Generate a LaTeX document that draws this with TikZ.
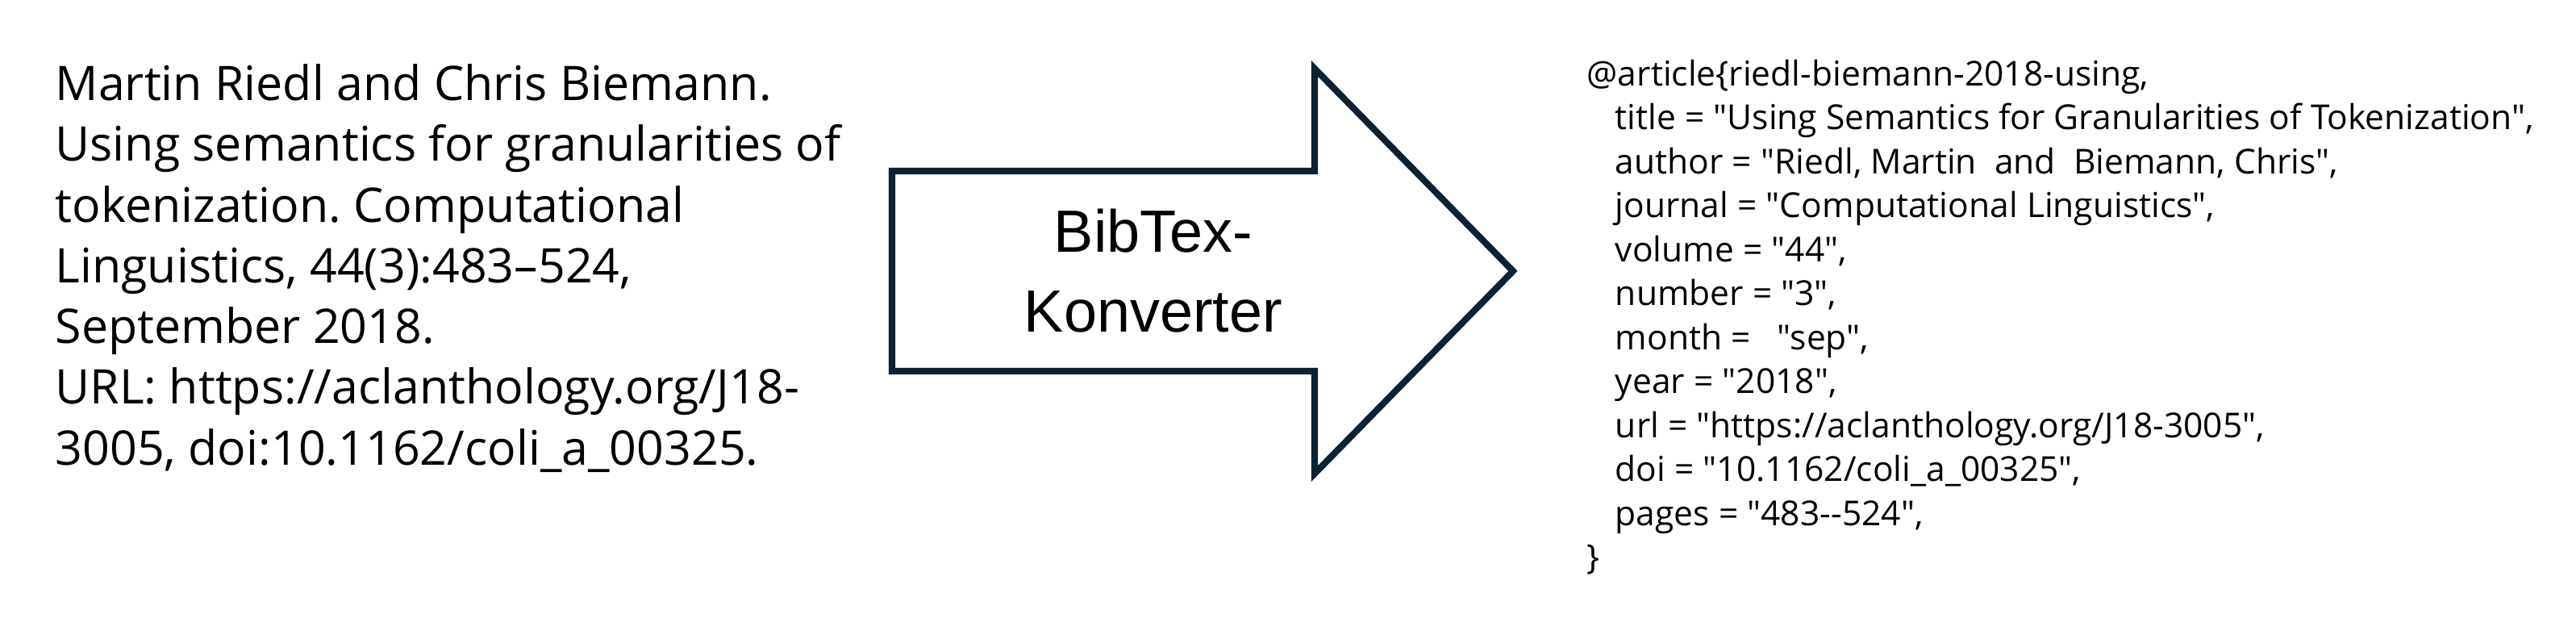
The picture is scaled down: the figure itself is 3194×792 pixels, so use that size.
\documentclass[tikz,border=0pt]{standalone}
\usepackage{fontspec}
\setmainfont{Open Sans}
\newfontfamily\bibfont[Ligatures=TeXOff]{Open Sans}
\newfontfamily\convfont{Liberation Sans}
\definecolor{arrowline}{RGB}{10,35,52}
\newcommand{\bibind}{\hspace*{10pt}}
\frenchspacing

\begin{document}
\begin{tikzpicture}[x=0.01cm, y=-0.01cm,
        refbox/.style={anchor=north west, inner sep=0pt, align=left, font=\fontsize{16.8}{21.4}\selectfont},
        bibbox/.style={anchor=north west, inner sep=0pt, align=left, font=\bibfont\fontsize{12.1}{15.5}\selectfont},
        convarrow/.style={draw=arrowline, line width=2.3pt, fill=white},
        convlabel/.style={align=center, inner sep=0pt, font=\convfont\fontsize{21}{28.2}\selectfont}
    ]
    \useasboundingbox (0,0) rectangle (3194,792);

    % Literaturangabe
    \node[refbox] (citation) at (68,79) {Martin Riedl and Chris Biemann.\\
        Using semantics for granularities of\\
        tokenization. Computational\\
        Linguistics, 44(3):483--524,\\
        September 2018.\\
        URL: https://aclanthology.org/J18-\\
        3005, doi:10.1162/coli\_a\_00325.};

    % Konverter
    \draw[convarrow] (1106,212) -- (1630,212) -- (1630,85) -- (1876,336)
        -- (1630,587) -- (1630,460) -- (1106,460) -- cycle;
    \node[convlabel] (converter) at (1430,336) {BibTex-\\Konverter};

    % BibTeX-Eintrag
    \node[bibbox] (bibentry) at (1967,73) {@article\{riedl-biemann-2018-using,\\
        \bibind title = "Using Semantics for Granularities of Tokenization",\\
        \bibind author = "Riedl, Martin\ \ and\ \ Biemann, Chris",\\
        \bibind journal = "Computational Linguistics",\\
        \bibind volume = "44",\\
        \bibind number = "3",\\
        \bibind month =\ \ \ "sep",\\
        \bibind year = "2018",\\
        \bibind url = "https://aclanthology.org/J18-3005",\\
        \bibind doi = "10.1162/coli\_a\_00325",\\
        \bibind pages = "483--524",\\
        \}};
\end{tikzpicture}
\end{document}
